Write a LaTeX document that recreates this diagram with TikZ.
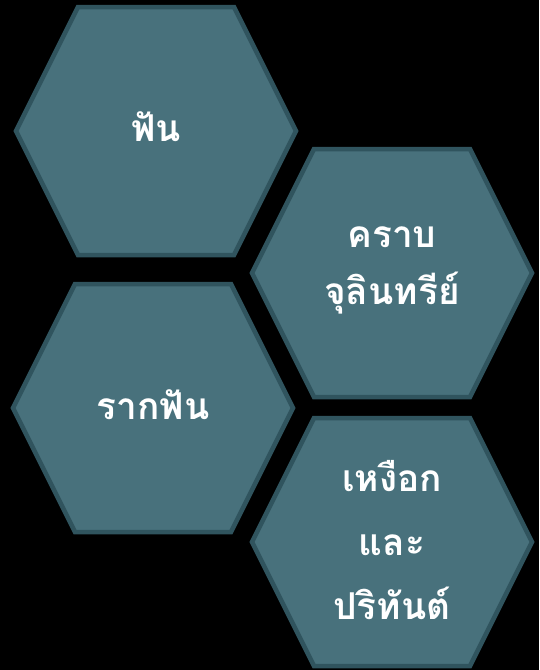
\documentclass[tikz,border=0pt]{standalone}
\usepackage{fontspec}
\newfontfamily\thaifont[Script=Thai]{Loma}
\definecolor{hexfill}{HTML}{48717C}
\definecolor{hexline}{HTML}{30545E}
\begin{document}
\begin{tikzpicture}[x=1pt, y=-1pt,
	hexcell/.style={draw=hexline, fill=hexfill, line width=4.5pt},
	celltext/.style={text=white, align=center, font=\thaifont\bfseries\fontsize{37}{57}\selectfont}]
	\fill[black] (0,0) rectangle (539,670);
	\useasboundingbox (0,0) rectangle (539,670);
	\foreach \cx/\cy in {156/131, 392/273, 153/408, 392/542}
	\draw[hexcell] (\cx,\cy) ++(-140,0) -- ++(62,-124) -- ++(156,0) -- ++(62,124) -- ++(-62,124) -- ++(-156,0) -- cycle;
	\node[celltext] (tooth) at (156,127) {ฟัน};
	\node[celltext] (plaque) at (392,270) {คราบ\\จุลินทรีย์};
	\node[celltext] (root) at (153,405) {รากฟัน};
	\node[celltext, font=\thaifont\bfseries\fontsize{37}{64}\selectfont] (gum) at (392,540) {เหงือก\\และ\\ปริทันต์};
\end{tikzpicture}
\end{document}
